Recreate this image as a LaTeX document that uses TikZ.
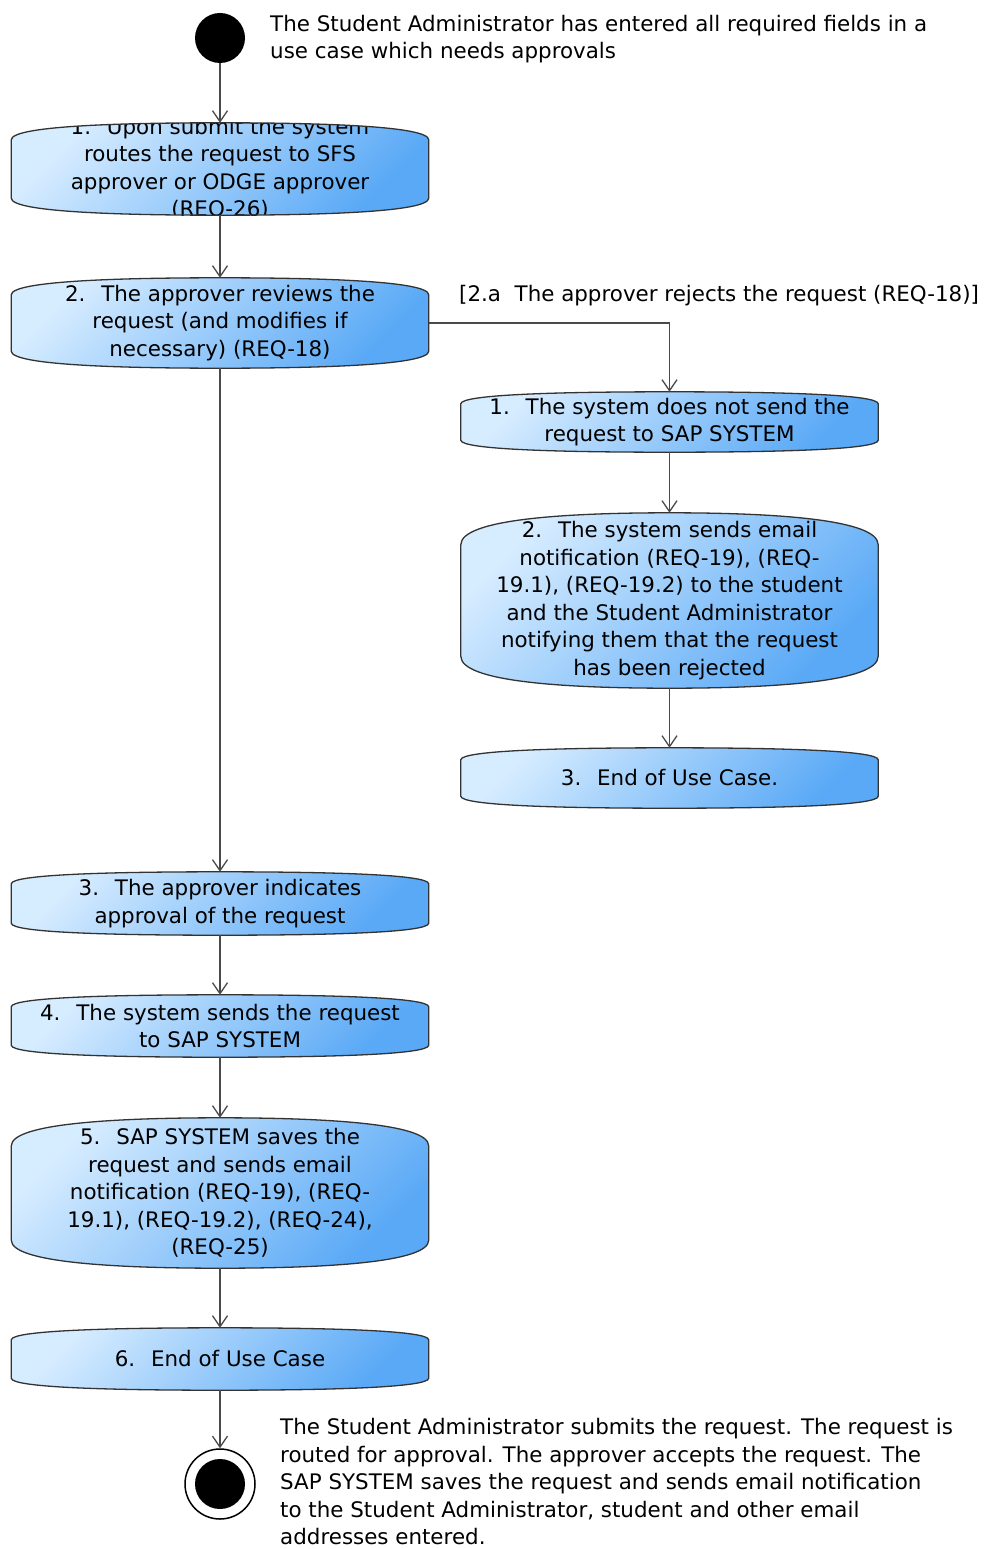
\documentclass[tikz,border=0pt]{standalone}
\usepackage{fontspec}
\setmainfont{DejaVu Sans}
\usetikzlibrary{arrows.meta,calc}
\definecolor{lightb}{HTML}{D6ECFF}
\definecolor{darkb}{HTML}{5AA9F6}
\definecolor{bordc}{HTML}{333333}
\definecolor{linec}{HTML}{4A4A4A}
\newcommand\dfont{\fontsize{21.4pt}{27.5pt}\selectfont}
\newcommand\actpath[2]{let \p1=(#1.north west), \p2=(#1.south east), \p3=(#1.center) in
 (\x1,\y1-#2pt) .. controls (\x1,\y1-0.2*#2pt) and (\x1+0.25*\x2-0.25*\x1,\y1) .. (\x3,\y1)
 .. controls (\x2-0.25*\x2+0.25*\x1,\y1) and (\x2,\y1-0.2*#2pt) .. (\x2,\y1-#2pt)
 -- (\x2,\y2+#2pt) .. controls (\x2,\y2+0.2*#2pt) and (\x2-0.25*\x2+0.25*\x1,\y2) .. (\x3,\y2)
 .. controls (\x1+0.25*\x2-0.25*\x1,\y2) and (\x1,\y2+0.2*#2pt) .. (\x1,\y2+#2pt) -- cycle}
\tikzset{
  actbox/.style={rectangle, draw=none, minimum width=417pt, inner sep=0pt},
  actshade/.style={shading=axis, top color=lightb, bottom color=darkb, shading angle=45},
  actborder/.style={draw=bordc, line width=1.3pt},
  acttext/.style={align=center, inner sep=0pt, font=\dfont, text=black},
  note/.style={align=left, inner sep=0pt, font=\dfont, text=black},
  flow/.style={draw=linec, line width=1.3pt, -{Straight Barb[length=11pt,width=15pt]}},
}
\newcommand\actnode[6]{%
  \node[actbox, minimum height=#4pt] (#1) at (#2,#3) {};
  \shade[actshade] \actpath{#1}{#5};
  \begin{scope}
    \clip \actpath{#1}{#5};
    \node[acttext] (#1t) at (#1.center) {#6};
  \end{scope}
  \draw[actborder] \actpath{#1}{#5};
}
\begin{document}
\begin{tikzpicture}[x=1pt, y=-1pt]
\useasboundingbox[fill=white] (0,0) rectangle (983,1549);

\node[circle, fill=black, minimum size=50pt, inner sep=0pt] (start) at (220,38) {};
\node[note, anchor=west] (topnote) at (270,39) {The Student Administrator has entered all required fields in a\\use case which needs approvals};

\actnode{n1}{220}{169}{92}{17}{1.~ Upon submit the system\\routes the request to SFS\\approver or ODGE approver\\(REQ-26)}
\actnode{n2}{220}{323}{90}{17}{2.~ The approver reviews the\\request (and modifies if\\necessary) (REQ-18)}
\actnode{a1}{669.5}{422}{60}{12}{1.~ The system does not send the\\request to SAP SYSTEM}
\actnode{a2}{669.5}{600.5}{175}{32}{2.~ The system sends email\\notification (REQ-19), (REQ-\\19.1), (REQ-19.2) to the student\\and the Student Administrator\\notifying them that the request\\has been rejected}
\actnode{a3}{669.5}{778}{60}{12}{3.~ End of Use Case.}
\actnode{n3}{220}{903.5}{63}{12}{3.~ The approver indicates\\approval of the request}
\actnode{n4}{220}{1026}{62}{12}{4.~ The system sends the request\\to SAP SYSTEM}
\actnode{n5}{220}{1193}{150}{28}{5.~ SAP SYSTEM saves the\\request and sends email\\notification (REQ-19), (REQ-\\19.1), (REQ-19.2), (REQ-24),\\(REQ-25)}
\actnode{n6}{220}{1359}{62}{12}{6.~ End of Use Case}

\node[note, anchor=west] (guard) at (459,296) {[2.a~ The approver rejects the request (REQ-18)]};

\node[circle, draw=black, fill=white, line width=1.5pt, minimum size=70pt, inner sep=0pt] (end) at (220,1484) {};
\node[circle, fill=black, minimum size=50pt, inner sep=0pt] (endin) at (end.center) {};
\node[note, anchor=west] (endnote) at (280,1482) {The Student Administrator submits the request. The request is\\routed for approval. The approver accepts the request. The\\SAP SYSTEM saves the request and sends email notification\\to the Student Administrator, student and other email\\addresses entered.};

\draw[flow] (start) -- (n1);
\draw[flow] (n1) -- (n2);
\draw[flow] (n2.east) -| (a1.north);
\draw[flow] (a1) -- (a2);
\draw[flow] (a2) -- (a3);
\draw[flow] (n2) -- (n3);
\draw[flow] (n3) -- (n4);
\draw[flow] (n4) -- (n5);
\draw[flow] (n5) -- (n6);
\draw[flow] (n6) -- (end);
\end{tikzpicture}
\end{document}
